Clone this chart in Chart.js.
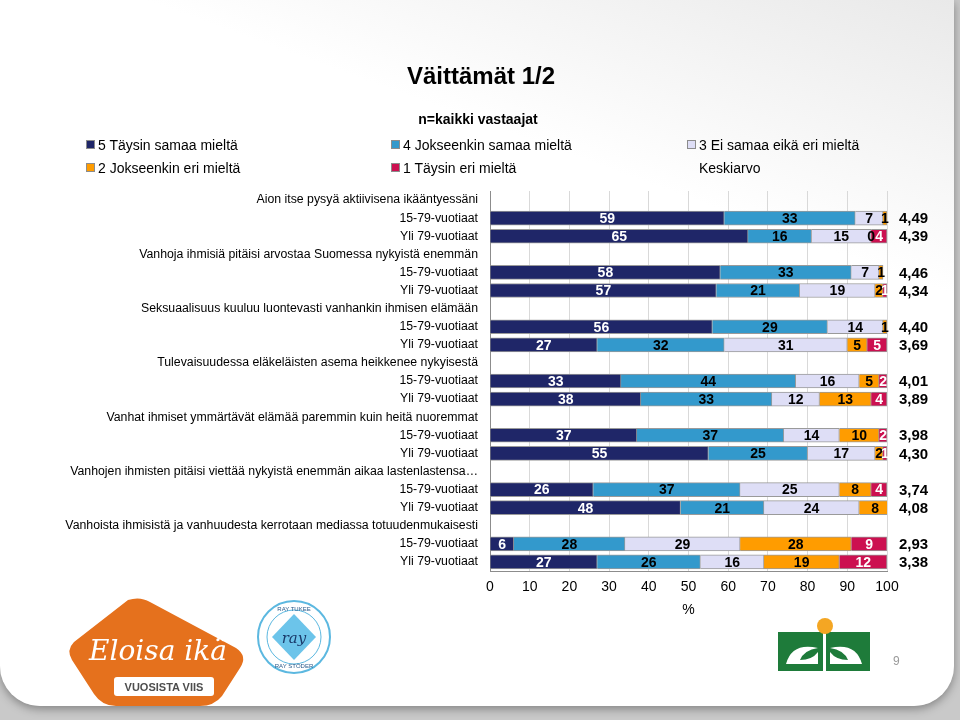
<!DOCTYPE html>
<html lang="fi">
<head>
<meta charset="utf-8">
<title>Väittämät 1/2</title>
<script src="https://cdn.jsdelivr.net/npm/chart.js@4.4.1/dist/chart.umd.min.js"></script>
<style>
  html, body { margin: 0; padding: 0; }
  body {
    width: 960px; height: 720px; position: relative; overflow: hidden;
    background: #c9c9c9;
    font-family: "Liberation Sans", Arial, sans-serif;
  }
  #slide {
    position: absolute; left: 0; top: 0; width: 954px; height: 706px;
    background: linear-gradient(200deg, #e9e9e9 0%, #ffffff 28%, #ffffff 100%);
    border-radius: 0 0 40px 40px;
    box-shadow: 0 3px 10px rgba(0,0,0,0.35);
  }
  #chart { position: absolute; left: 0; top: 0; }
  .title {
    position: absolute; left: 0; width: 962px; text-align: center;
    font-weight: bold; color: #000;
  }
  .leg { position: absolute; font-size: 14px; color: #000; white-space: nowrap; }
  .leg i {
    display: inline-block; width: 7px; height: 7px; margin-right: 3px;
    border: 1px solid #8c8c8c; vertical-align: 1px;
  }
  #logos { position: absolute; left: 0; top: 0; }
</style>
</head>
<body>
<div id="slide">
  <canvas id="chart" width="960" height="720"></canvas>
  <div class="title" style="top:62px; font-size:24px;">Väittämät 1/2</div>
  <div class="title" style="top:111px; font-size:14px; width:956px;">n=kaikki vastaajat</div>
  <div id="legend"></div>
  <svg id="logos" width="960" height="720">
    <!-- Eloisa ikä -->
    <path d="M128 600 Q140 596 150 602 L236 648 Q248 656 240 668 L222 696 Q214 706 200 706 L116 706 Q102 706 94 694 L72 660 Q66 650 74 642 Z" fill="#e5711d"/>
    <rect x="114" y="677" width="100" height="19" rx="3" fill="#ffffff"/>
    <text x="158" y="660" text-anchor="middle" font-family="DejaVu Serif" font-style="italic" font-size="28" fill="#ffffff">Eloisa ikä</text>
    <text x="164" y="691" text-anchor="middle" font-family="Liberation Sans" font-weight="bold" font-size="11" fill="#4d4d4d">VUOSISTA VIIS</text>
    <!-- RAY -->
    <circle cx="294" cy="637" r="36" fill="#ffffff" stroke="#5cb8e0" stroke-width="2"/>
    <circle cx="294" cy="637" r="27" fill="none" stroke="#5cb8e0" stroke-width="1"/>
    <path d="M294 614 L316 637 L294 660 L272 637 Z" fill="#6cc4ea"/>
    <text x="294" y="643" text-anchor="middle" font-family="DejaVu Serif" font-style="italic" font-size="15" fill="#1a3a6a">ray</text>
    <text x="294" y="611" text-anchor="middle" font-family="Liberation Sans" font-size="6" fill="#2a5a8a">RAY TUKEE</text>
    <text x="294" y="668" text-anchor="middle" font-family="Liberation Sans" font-size="6" fill="#2a5a8a">RAY STÖDER</text>
    <!-- green logo -->
    <rect x="778" y="632" width="92" height="39" fill="#1e7b3a"/>
    <rect x="823" y="618" width="3" height="53" fill="#ffffff"/>
    <circle cx="825" cy="626" r="8" fill="#f4a623"/>
    <path d="M786 664 Q792 642 818 648 Q804 650 800 660 Q812 660 818 652 L818 664 Z" fill="#ffffff"/>
    <path d="M862 664 Q856 642 830 648 Q844 650 848 660 Q836 660 830 652 L830 664 Z" fill="#ffffff"/>
    <text x="893" y="665" font-family="Liberation Sans" font-size="12" fill="#9a9a9a">9</text>
  </svg>
</div>
<script>
  // väittämät ja ikäryhmät
  const statements = [
    'Aion itse pysyä aktiivisena ikääntyessäni',
    'Vanhoja ihmisiä pitäisi arvostaa Suomessa nykyistä enemmän',
    'Seksuaalisuus kuuluu luontevasti vanhankin ihmisen elämään',
    'Tulevaisuudessa eläkeläisten asema heikkenee nykyisestä',
    'Vanhat ihmiset ymmärtävät elämää paremmin kuin heitä nuoremmat',
    'Vanhojen ihmisten pitäisi viettää nykyistä enemmän aikaa lastenlastensa…',
    'Vanhoista ihmisistä ja vanhuudesta kerrotaan mediassa totuudenmukaisesti'
  ];
  const groups = ['15-79-vuotiaat', 'Yli 79-vuotiaat'];

  // % per rivi (15-79, yli 79) väittämittäin
  const taysinSamaa   = [59, 65, 58, 57, 56, 27, 33, 38, 37, 55, 26, 48, 6, 27];
  const jokseenSamaa  = [33, 16, 33, 21, 29, 32, 44, 33, 37, 25, 37, 21, 28, 26];
  const eiSamaaEiEri  = [7, 15, 7, 19, 14, 31, 16, 12, 14, 17, 25, 24, 29, 16];
  const jokseenEri    = [1, 0, 1, 2, 1, 5, 5, 13, 10, 2, 8, 8, 28, 19];
  const taysinEri     = [null, 4, null, 1, null, 5, 2, 4, 2, 1, 4, null, 9, 12];
  const keskiarvo     = ['4,49', '4,39', '4,46', '4,34', '4,40', '3,69', '4,01', '3,89', '3,98', '4,30', '3,74', '4,08', '2,93', '3,38'];

  const xTicks = [0, 10, 20, 30, 40, 50, 60, 70, 80, 90, 100];

  const seriesNames = ['5 Täysin samaa mieltä', '4 Jokseenkin samaa mieltä', '3 Ei samaa eikä eri mieltä', '2 Jokseenkin eri mieltä', '1 Täysin eri mieltä'];
  const seriesColors = ['#1f2668', '#3399cc', '#dedef6', '#ff9c00', '#cc1050'];
  const labelColors = ['#ffffff', '#000000', '#000000', '#000000', '#ffffff'];
  const seriesValues = [taysinSamaa, jokseenSamaa, eiSamaaEiEri, jokseenEri, taysinEri];

  // build rows: header row (no bar) + two group rows per statement
  const labels = [];
  const rowIndex = []; // chart row -> data index, null for header rows
  statements.forEach((s, i) => {
    labels.push(s); rowIndex.push(null);
    groups.forEach((g, j) => { labels.push(g); rowIndex.push(i * 2 + j); });
  });

  const datasets = seriesValues.map((vals, k) => ({
    label: seriesNames[k],
    data: rowIndex.map(r => r === null ? null : vals[r]),
    backgroundColor: seriesColors[k],
    borderColor: '#9a9a9a',
    borderWidth: 1,
    barThickness: 14,
    labelColor: labelColors[k]
  }));

  // legend (3 columns like the original)
  const legendItems = [
    { text: seriesNames[0], color: seriesColors[0], x: 86, y: 137 },
    { text: seriesNames[1], color: seriesColors[1], x: 391, y: 137 },
    { text: seriesNames[2], color: seriesColors[2], x: 687, y: 137 },
    { text: seriesNames[3], color: seriesColors[3], x: 86, y: 160 },
    { text: seriesNames[4], color: seriesColors[4], x: 391, y: 160 },
    { text: 'Keskiarvo', color: null, x: 699, y: 160 }
  ];
  document.getElementById('legend').innerHTML = legendItems
    .map(it => `<div class="leg" style="left:${it.x}px; top:${it.y}px;">${it.color ? `<i style="background:${it.color}"></i>` : ''}${it.text}</div>`)
    .join('');

  // values inside the bars and mean values at the right
  const barLabels = {
    id: 'barLabels',
    afterDatasetsDraw(chart) {
      const ctx = chart.ctx;
      ctx.save();
      ctx.font = 'bold 14px "Liberation Sans", Arial, sans-serif';
      ctx.textAlign = 'center';
      ctx.textBaseline = 'middle';
      chart.data.datasets.forEach((ds, k) => {
        chart.getDatasetMeta(k).data.forEach((bar, i) => {
          const v = ds.data[i];
          if (v === null || v === undefined) return;
          ctx.fillStyle = ds.labelColor;
          ctx.fillText(String(v), (bar.x + bar.base) / 2, bar.y + 1);
        });
      });
      // Keskiarvo
      const meta = chart.getDatasetMeta(0);
      ctx.font = 'bold 15px "Liberation Sans", Arial, sans-serif';
      ctx.textAlign = 'left';
      ctx.fillStyle = '#000';
      rowIndex.forEach((r, i) => {
        if (r === null) return;
        ctx.fillText(keskiarvo[r], chart.chartArea.right + 12, meta.data[i].y + 1);
      });
      ctx.restore();
    }
  };

  Chart.defaults.font.family = '"Liberation Sans", Arial, sans-serif';
  Chart.defaults.color = '#000';

  new Chart(document.getElementById('chart'), {
    type: 'bar',
    data: { labels: labels, datasets: datasets },
    options: {
      responsive: false,
      animation: false,
      indexAxis: 'y',
      layout: { padding: { top: 191, bottom: 97, left: 0, right: 73 } },
      plugins: {
        legend: { display: false },
        tooltip: { enabled: false }
      },
      scales: {
        x: {
          stacked: true, min: 0, max: 100,
          afterBuildTicks: s => { s.ticks = xTicks.map(v => ({ value: v })); },
          ticks: { padding: 8, font: { size: 14 } },
          grid: { color: '#d9d9d9', drawTicks: false },
          border: { color: '#8c8c8c' },
          title: { display: true, text: '%', font: { size: 14 }, padding: { top: 0, bottom: 4 } },
          afterFit: s => { s.height = 52; }
        },
        y: {
          stacked: true,
          ticks: { padding: 4, autoSkip: false, font: { size: 12.3 } },
          grid: { display: false },
          border: { display: true, color: '#8c8c8c' },
          afterFit: s => { s.width = 490; }
        }
      }
    },
    plugins: [barLabels]
  });
</script>
</body>
</html>
